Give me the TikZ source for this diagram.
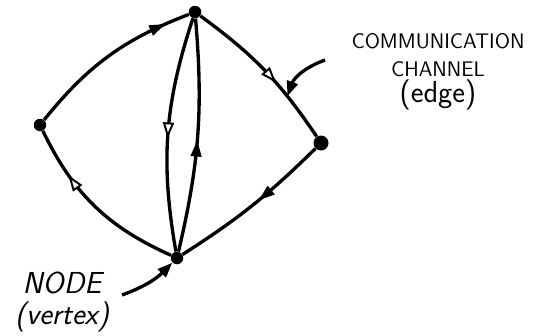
\documentclass[tikz,border=0pt]{standalone}
\usepackage{tikz}
\usetikzlibrary{arrows.meta,decorations.markings}

\begin{document}
\begin{tikzpicture}[x=0.02cm, y=0.02cm, font=\sffamily,
    vertex/.style={circle, fill=black, inner sep=0pt, minimum size=0.25cm},
    channel/.style={line width=1.9pt},
    solidtip/.style={postaction={decorate}, decoration={markings, mark=at position #1 with {\arrow[line width=0.8pt]{Triangle[length=0.32cm, width=0.22cm]}}}},
    opentip/.style={postaction={decorate}, decoration={markings, mark=at position #1 with {\arrow[line width=1.1pt]{Triangle[length=0.32cm, width=0.22cm, fill=white]}}}},
    pointer/.style={line width=1.9pt, -{Triangle[length=0.3cm, width=0.22cm]}}]
        \useasboundingbox (0,0) rectangle (540,-335);

        % the four nodes
        \node[vertex] (top) at (195,-12) {};
        \node[vertex] (lft) at (40,-125) {};
        \node[vertex, minimum size=0.3cm] (rgt) at (321,-143) {};
        \node[vertex] (bot) at (177,-258) {};

        % channels round the outside
        \draw[channel, solidtip=0.86] (lft) to[bend left=15] (top);
        \draw[channel, opentip=0.6] (top) to[bend left=10] coordinate[pos=0.72] (hit) (rgt);
        \draw[channel, solidtip=0.45] (rgt) to[bend left=6] (bot);
        \draw[channel, opentip=0.72] (bot) to[bend left=20] (lft);

        % the two channels between top and bottom
        \draw[channel, opentip=0.52] (top) to[bend right=14] (bot);
        \draw[channel, solidtip=0.48] (bot) to[bend right=9] (top);

        % labels
        \node[align=center, font=\sffamily\large] (chanlabel) at (438,-72) {COMMUNICATION\\[2pt]CHANNEL\\[1pt]{\LARGE (edge)}};
        \node[align=center, font=\sffamily\itshape\LARGE] (nodelabel) at (62,-302) {NODE\\[-4pt](vertex)};
        \coordinate (chanfrom) at (325,-60);
        \coordinate (nodefrom) at (122,-295);

        \draw[pointer] (chanfrom) to[out=200, in=70] (hit);
        \draw[pointer] (nodefrom) to[out=20, in=225] (bot);
      \end{tikzpicture}
\end{document}
